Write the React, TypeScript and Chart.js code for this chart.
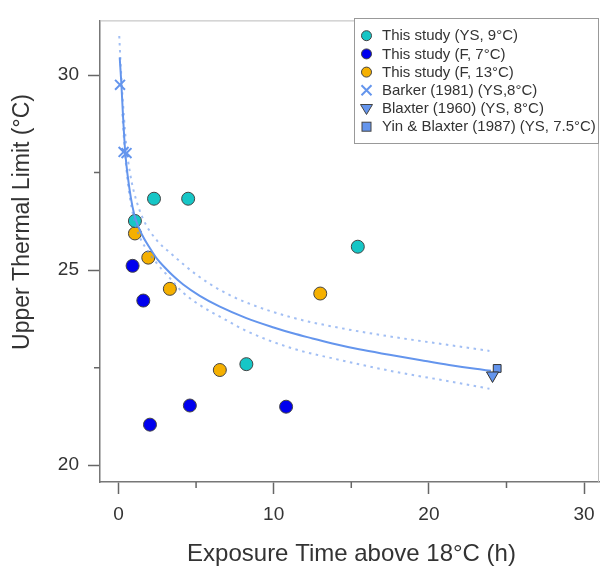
import React, { useEffect, useRef } from 'react';
import { Chart, registerables } from 'chart.js';
Chart.register(...registerables);

// ---- data ----
const cyanX = [1.06, 2.29, 4.49, 8.24, 15.42];
const cyanY = [26.26, 26.83, 26.83, 22.59, 25.6];
const blueX = [0.91, 1.6, 2.03, 4.6, 10.8];
const blueY = [25.11, 24.22, 21.04, 21.53, 21.5];
const orangeX = [1.06, 1.92, 3.31, 6.53, 13.0];
const orangeY = [25.94, 25.32, 24.52, 22.44, 24.4];
const barkerX = [0.1, 0.33, 0.52];
const barkerY = [29.75, 28.03, 28.0];
const blaxterX = [24.1];
const blaxterY = [22.3];
const yinX = [24.4];
const yinY = [22.48];

const fitX = [0.08, 0.12, 0.19, 0.3, 0.44, 0.6, 0.8, 1.0, 1.17, 1.5, 2.03, 2.5, 3.0, 3.5, 4.17, 5.24, 6.5, 8.24, 10, 11.24, 12.5, 14, 15.5, 17.46, 19.5, 21.3, 23, 24.0];
const fitY = [30.45, 30.2, 29.75, 28.9, 28.0, 27.4, 26.85, 26.45, 26.23, 25.92, 25.56, 25.28, 25.06, 24.86, 24.63, 24.34, 24.07, 23.77, 23.53, 23.38, 23.25, 23.1, 22.97, 22.83, 22.69, 22.57, 22.47, 22.42];
const upperX = [0.05, 0.1, 0.2, 0.35, 0.5, 0.74, 1.0, 1.6, 2.5, 3.31, 5.03, 6.5, 8.24, 11.24, 14.24, 17.5, 21.3, 23.9];
const upperY = [31.0, 30.6, 29.85, 28.95, 28.2, 27.5, 27.0, 26.3, 25.75, 25.45, 24.88, 24.5, 24.17, 23.78, 23.52, 23.3, 23.08, 22.93];
const lowerX = [0.25, 0.4, 0.6, 0.85, 1.17, 1.7, 2.46, 3.3, 4.17, 5.45, 6.8, 8.24, 11.24, 14.24, 17.5, 21.3, 23.9];
const lowerY = [29.0, 28.1, 27.25, 26.6, 26.06, 25.6, 25.18, 24.8, 24.42, 24.05, 23.75, 23.44, 22.99, 22.7, 22.42, 22.15, 21.96];

const xMajorTicks = [0, 10, 20, 30];
const xMinorTicks = [5, 15, 25];
const yMajorTicks = [20, 25, 30];
const yMinorTicks = [22.5, 27.5];

const legendLabels = [
  'This study (YS, 9°C)',
  'This study (F, 7°C)',
  'This study (F, 13°C)',
  'Barker (1981) (YS,8°C)',
  'Blaxter (1960) (YS, 8°C)',
  'Yin & Blaxter (1987) (YS, 7.5°C)',
];
const xTitle = 'Exposure Time above 18°C (h)';
const yTitle = 'Upper Thermal Limit (°C)';

const CURVE = 'rgb(100,149,237)';
const CURVE_DOT = 'rgba(100,149,237,0.6)';
const CYAN = 'rgb(22,198,198)';
const BLUE = 'rgb(0,0,238)';
const ORANGE = 'rgb(245,176,0)';
const EDGE = '#444';
const FONT = '"Liberation Sans", Arial, Helvetica, sans-serif';

const pts = (xs: number[], ys: number[]) => xs.map((x, i) => ({ x, y: ys[i] }));

const extras = {
  id: 'extras',
  afterDraw(chart: any) {
    const { ctx, chartArea: a, scales } = chart;
    const xs = scales.x, ys = scales.y;
    ctx.save();
    // light frame top/right
    ctx.strokeStyle = '#bbb';
    ctx.lineWidth = 1;
    ctx.beginPath();
    ctx.moveTo(a.left, a.top + 0.5);
    ctx.lineTo(a.right - 0.5, a.top + 0.5);
    ctx.lineTo(a.right - 0.5, a.bottom);
    ctx.stroke();
    // minor ticks
    ctx.strokeStyle = '#666';
    ctx.lineWidth = 1.5;
    ctx.beginPath();
    yMinorTicks.forEach((v) => {
      const p = ys.getPixelForValue(v);
      ctx.moveTo(a.left - 6, p);
      ctx.lineTo(a.left, p);
    });
    xMinorTicks.forEach((v) => {
      const p = xs.getPixelForValue(v);
      ctx.moveTo(p, a.bottom);
      ctx.lineTo(p, a.bottom + 6);
    });
    ctx.stroke();
    // titles
    ctx.fillStyle = '#333';
    ctx.font = `23px ${FONT}`;
    ctx.textAlign = 'center';
    ctx.textBaseline = 'middle';
    ctx.save();
    ctx.translate(23, 222);
    ctx.rotate(-Math.PI / 2);
    ctx.fillText(yTitle, 0, 0);
    ctx.restore();
    ctx.font = `24px ${FONT}`;
    ctx.textBaseline = 'alphabetic';
    ctx.fillText(xTitle, (a.left + a.right) / 2 + 2, 561);
    // legend
    const bx = 354.5, by = 18.5, bw = 244, bh = 125;
    ctx.fillStyle = '#fff';
    ctx.fillRect(bx, by, bw, bh);
    ctx.strokeStyle = '#999';
    ctx.lineWidth = 1;
    ctx.strokeRect(bx, by, bw, bh);
    ctx.font = `15px ${FONT}`;
    ctx.textAlign = 'left';
    ctx.textBaseline = 'middle';
    legendLabels.forEach((lab, i) => {
      const cy = 35.7 + i * 18.2;
      const cx = 366.5;
      ctx.lineWidth = 1;
      ctx.strokeStyle = EDGE;
      if (i < 3) {
        ctx.fillStyle = [CYAN, BLUE, ORANGE][i];
        ctx.beginPath();
        ctx.arc(cx, cy, 5, 0, Math.PI * 2);
        ctx.fill();
        ctx.stroke();
      } else if (i === 3) {
        ctx.strokeStyle = CURVE;
        ctx.lineWidth = 2;
        ctx.beginPath();
        ctx.moveTo(cx - 5, cy - 5); ctx.lineTo(cx + 5, cy + 5);
        ctx.moveTo(cx + 5, cy - 5); ctx.lineTo(cx - 5, cy + 5);
        ctx.stroke();
      } else if (i === 4) {
        ctx.fillStyle = CURVE;
        ctx.beginPath();
        ctx.moveTo(cx - 6, cy - 4); ctx.lineTo(cx + 6, cy - 4); ctx.lineTo(cx, cy + 6); ctx.closePath();
        ctx.fill();
        ctx.stroke();
      } else {
        ctx.fillStyle = CURVE;
        ctx.fillRect(cx - 4.5, cy - 4.5, 9, 9);
        ctx.strokeRect(cx - 4.5, cy - 4.5, 9, 9);
      }
      ctx.fillStyle = '#333';
      ctx.fillText(lab, 382, cy + 0.5);
    });
    ctx.restore();
  },
};

export default function App() {
  const ref = useRef<HTMLCanvasElement>(null);
  useEffect(() => {
    if (!ref.current) return;
    const circle = (data: any, color: string) => ({
      data, backgroundColor: color, borderColor: EDGE, borderWidth: 1,
      pointRadius: 6.5, pointHoverRadius: 6.5, order: 5,
    });
    const tickFont = { family: FONT, size: 19 };
    const band = (data: any) => ({
      data, showLine: true, pointRadius: 0, borderColor: CURVE_DOT,
      borderWidth: 2, borderDash: [2.5, 4.5], cubicInterpolationMode: 'monotone', order: 3,
    });
    const chart = new Chart(ref.current, {
      type: 'scatter',
      data: {
        datasets: [
          circle(pts(cyanX, cyanY), CYAN),
          circle(pts(blueX, blueY), BLUE),
          circle(pts(orangeX, orangeY), ORANGE),
          band(pts(upperX, upperY)),
          band(pts(lowerX, lowerY)),
          {
            data: pts(fitX, fitY), showLine: true, pointRadius: 0, borderColor: CURVE,
            borderWidth: 2, cubicInterpolationMode: 'monotone', order: 2,
          },
          {
            data: pts(barkerX, barkerY), pointStyle: 'crossRot', pointRadius: 7, borderColor: CURVE,
            borderWidth: 2, backgroundColor: CURVE, order: 1,
          },
          {
            data: pts(blaxterX, blaxterY), pointStyle: 'triangle', rotation: 180, pointRadius: 7,
            backgroundColor: CURVE, borderColor: '#333', borderWidth: 1, order: 1,
          },
          {
            data: pts(yinX, yinY), pointStyle: 'rect', pointRadius: 5.5,
            backgroundColor: CURVE, borderColor: '#333', borderWidth: 1, order: 1,
          },
        ] as any,
      },
      options: {
        animation: false,
        responsive: false,
        devicePixelRatio: 1,
        layout: { padding: { left: 0, top: 17, right: 8, bottom: 0 } },
        plugins: { legend: { display: false }, tooltip: { enabled: false } },
        scales: {
          x: {
            type: 'linear', min: -1.19, max: 30.96,
            afterBuildTicks: (s: any) => { s.ticks = xMajorTicks.map((v) => ({ value: v })); },
            afterFit: (s: any) => { s.height = 84; },
            ticks: { font: tickFont, color: '#333', padding: 9, maxRotation: 0, autoSkip: false },
            grid: { drawOnChartArea: false, tickLength: 12, tickColor: '#666', tickWidth: 1.5 },
            border: { color: '#777', width: 1.5 },
          },
          y: {
            type: 'linear', min: 19.57, max: 31.4,
            afterBuildTicks: (s: any) => { s.ticks = yMajorTicks.map((v) => ({ value: v })); },
            afterFit: (s: any) => { s.width = 100; },
            ticks: { font: tickFont, color: '#333', padding: 9, autoSkip: false },
            grid: { drawOnChartArea: false, tickLength: 12, tickColor: '#666', tickWidth: 1.5 },
            border: { color: '#777', width: 1.5 },
          },
        },
      } as any,
      plugins: [extras],
    });
    return () => chart.destroy();
  }, []);
  return (
    <div style={{ position: 'absolute', left: 0, top: 0, width: 608, height: 566, background: '#fff' }}>
      <canvas ref={ref} width={608} height={566} style={{ display: 'block' }} />
    </div>
  );
}
